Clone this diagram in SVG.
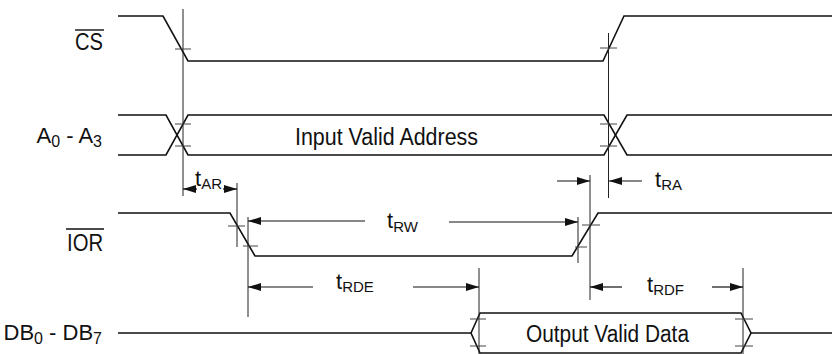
<svg xmlns="http://www.w3.org/2000/svg" width="832" height="354" viewBox="0 0 832 354">
<style>
.sig{fill:none;stroke:#111;stroke-width:1.6;stroke-linejoin:miter}
.ref{fill:none;stroke:#222;stroke-width:1}
.tick{fill:none;stroke:#444;stroke-width:1}
.dim{fill:none;stroke:#111;stroke-width:1.2}
text{font-family:"Liberation Sans",Arial,sans-serif;fill:#111}
.lbl{font-size:23px;text-anchor:end}
.lbs{font-size:22px;text-anchor:end}
.big{font-size:23px}
.tl{font-size:22px}
.sub{font-size:15px}
.sub2{font-size:16px}
</style>
<defs>
<marker id="ah" viewBox="0 0 13 8" refX="13" refY="4" markerWidth="13" markerHeight="8" markerUnits="userSpaceOnUse" orient="auto">
<path d="M0,0 L13,4 L0,8 Z" fill="#111"/>
</marker>
</defs>
<rect width="832" height="354" fill="#fff"/>
<g id="labels">
<text class="lbl" x="103" y="50" textLength="28" lengthAdjust="spacingAndGlyphs">CS</text>
<line x1="75" y1="30" x2="104" y2="30" stroke="#111" stroke-width="1.4"/>
<text class="lbs" x="102" y="143">A<tspan class="sub2" dy="4">0</tspan><tspan dy="-4"> - A</tspan><tspan class="sub2" dy="4">3</tspan></text>
<text class="lbl" x="103" y="251" textLength="36" lengthAdjust="spacingAndGlyphs">IOR</text>
<line x1="66" y1="229" x2="104" y2="229" stroke="#111" stroke-width="1.4"/>
<text class="lbs" x="102" y="340">DB<tspan class="sub2" dy="4">0</tspan><tspan dy="-4"> - DB</tspan><tspan class="sub2" dy="4">7</tspan></text>
</g>
<g id="cs">
<polyline class="sig" points="118,16 163,16 188,61 603,61 624,16 832,16"/>
</g>
<g id="addr">
<polyline class="sig" points="118,115 166,115 188,155 604,155 627,115 832,115"/>
<polyline class="sig" points="118,155 166,155 188,115 604,115 627,155 832,155"/>
<text class="big" x="295" y="145" textLength="183" lengthAdjust="spacingAndGlyphs">Input Valid Address</text>
</g>
<g id="ior">
<polyline class="sig" points="118,213 230,213 255,256 572,256 598,213 832,213"/>
</g>
<g id="db">
<polyline class="sig" points="118,333 471,333"/>
<polygon class="sig" points="471,333 480,313 741,313 751,333 741,353 480,353"/>
<polyline class="sig" points="751,333 832,333"/>
<text class="big" x="526" y="342" textLength="163" lengthAdjust="spacingAndGlyphs">Output Valid Data</text>
</g>
<g id="connectors">
<line class="ref" x1="183" y1="9" x2="183" y2="196"/>
<line class="ref" x1="237" y1="183" x2="237" y2="247"/>
<line class="ref" x1="248" y1="217" x2="248" y2="317"/>
<line class="ref" x1="578" y1="217" x2="578" y2="263"/>
<line class="ref" x1="590" y1="175" x2="590" y2="300"/>
<line class="ref" x1="608.5" y1="33" x2="608.5" y2="198"/>
<line class="ref" x1="479" y1="268" x2="479" y2="354"/>
<line class="ref" x1="743" y1="268" x2="743" y2="354"/>
<line class="tick" x1="175" y1="49" x2="191" y2="49"/>
<line class="tick" x1="600" y1="48" x2="617" y2="48"/>
<line class="tick" x1="175" y1="124" x2="191" y2="124"/>
<line class="tick" x1="175" y1="146" x2="191" y2="146"/>
<line class="tick" x1="600" y1="124" x2="617" y2="124"/>
<line class="tick" x1="600" y1="146" x2="617" y2="146"/>
<line class="tick" x1="228" y1="226" x2="245" y2="226"/>
<line class="tick" x1="243" y1="246" x2="258" y2="246"/>
<line class="tick" x1="582" y1="225" x2="600" y2="225"/>
<line class="tick" x1="575" y1="247" x2="587" y2="247"/>
<line class="tick" x1="470" y1="319" x2="486" y2="319"/>
<line class="tick" x1="470" y1="346" x2="486" y2="346"/>
<line class="tick" x1="735" y1="319" x2="753" y2="319"/>
<line class="tick" x1="735" y1="346" x2="753" y2="346"/>
<line class="dim" x1="197" y1="189" x2="183" y2="189" marker-end="url(#ah)"/>
<line class="dim" x1="223" y1="189" x2="237" y2="189" marker-end="url(#ah)"/>
<line class="dim" x1="365" y1="221" x2="248" y2="221" marker-end="url(#ah)"/>
<line class="dim" x1="449" y1="222" x2="578" y2="222" marker-end="url(#ah)"/>
<line class="dim" x1="557" y1="181" x2="590" y2="181" marker-end="url(#ah)"/>
<line class="dim" x1="642" y1="181" x2="609" y2="181" marker-end="url(#ah)"/>
<line class="dim" x1="313" y1="287" x2="248" y2="287" marker-end="url(#ah)"/>
<line class="dim" x1="413" y1="287" x2="479" y2="287" marker-end="url(#ah)"/>
<line class="dim" x1="622" y1="287" x2="590" y2="287" marker-end="url(#ah)"/>
<line class="dim" x1="712" y1="287" x2="743" y2="287" marker-end="url(#ah)"/>
</g>
<g id="timing-labels">
<text class="tl" x="195" y="186">t<tspan class="sub" dy="3">AR</tspan></text>
<text class="tl" x="387" y="228">t<tspan class="sub" dy="4">RW</tspan></text>
<text class="tl" x="655" y="187">t<tspan class="sub" dy="3">RA</tspan></text>
<text class="tl" x="336" y="289">t<tspan class="sub" dy="3">RDE</tspan></text>
<text class="tl" x="647" y="292">t<tspan class="sub" dy="3">RDF</tspan></text>
</g>
</svg>
